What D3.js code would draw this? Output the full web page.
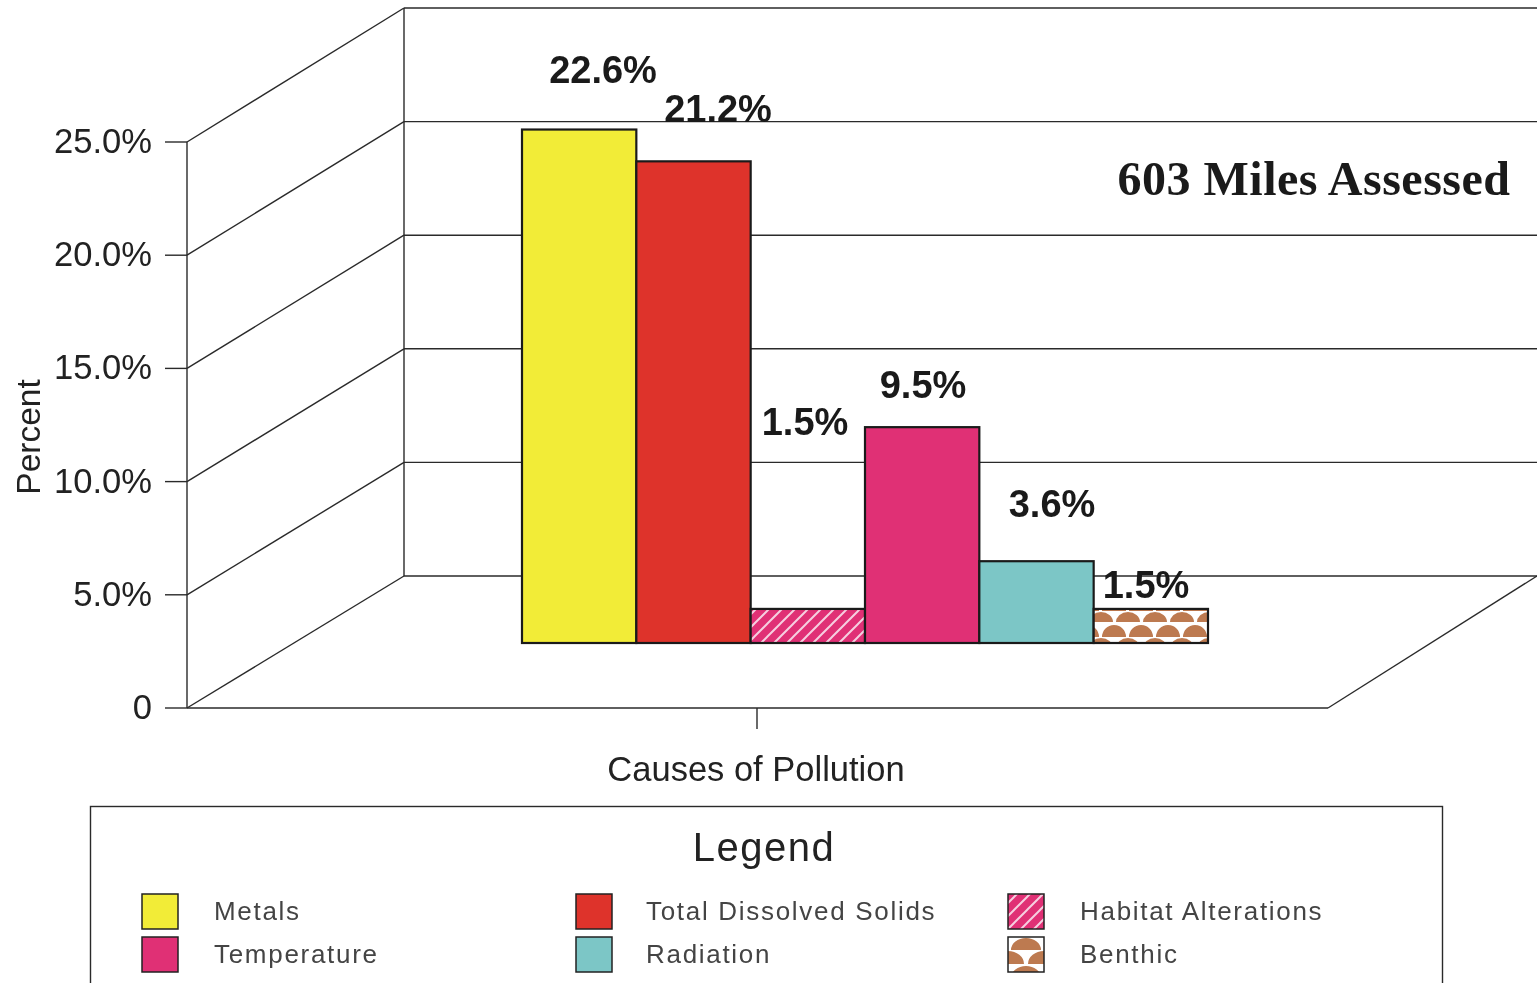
<!DOCTYPE html>
<html><head><meta charset="utf-8">
<script src="https://cdn.jsdelivr.net/npm/d3@7"></script>
<style>html,body{margin:0;padding:0;background:#fff;overflow:hidden}svg{display:block;filter:blur(0.5px)}text{font-family:"Liberation Sans",Arial,sans-serif}</style>
</head><body><svg id="c" width="1537" height="983"></svg>
<script>
const categories=["Metals","Total Dissolved Solids","Habitat Alterations","Temperature","Radiation","Benthic"];
const values=[22.6,21.2,1.5,9.5,3.6,1.5];
const valueLabels=["22.6%","21.2%","1.5%","9.5%","3.6%","1.5%"];
const fills=["#f2ec37","#de332b","url(#hatch)","#e03075","#7cc6c6","url(#benthic)"];
const tickValues=[0,5,10,15,20,25];
const tickLabels=["0","5.0%","10.0%","15.0%","20.0%","25.0%"];

const svg=d3.select("#c");
const defs=svg.append("defs");
const h=defs.append("pattern").attr("id","hatch").attr("patternUnits","userSpaceOnUse").attr("width",13).attr("height",13);
h.append("rect").attr("width",13).attr("height",13).attr("fill","#e03075");
h.append("path").attr("d","M-3,3L3,-3M0,13L13,0M10,16L16,10").attr("stroke","#f6cfe0").attr("stroke-width",2);
const b=defs.append("pattern").attr("id","benthic").attr("patternUnits","userSpaceOnUse").attr("width",27).attr("height",26).attr("x",1092).attr("y",612);
b.append("rect").attr("width",27).attr("height",26).attr("fill","#fff");
b.append("path").attr("d","M-3,10A12,10 0 0 1 21,10ZM24,10A12,10 0 0 1 48,10ZM10,25A12,12 0 0 1 34,25ZM-17,25A12,12 0 0 1 7,25Z").attr("fill","#bd7a50");
const b2=defs.append("pattern").attr("id","benthicL").attr("patternUnits","userSpaceOnUse").attr("width",36).attr("height",28).attr("x",1008).attr("y",937);
b2.append("rect").attr("width",36).attr("height",28).attr("fill","#fff");
b2.append("path").attr("d","M3,13A15,12 0 0 1 33,13ZM-16,27A16,13 0 0 1 16,27ZM20,27A16,13 0 0 1 52,27Z").attr("fill","#bd7a50");

const yFront=d3.scaleLinear().domain([0,25]).range([708,142]);
const yBack=d3.scaleLinear().domain([0,25]).range([576,8]);
const yBar=d3.scaleLinear().domain([0,25]).range([643,75]);
const x=d3.scaleBand().domain(categories).range([522,1208]);
const line="#2a2a2a";

const g=svg.append("g").attr("stroke",line).attr("stroke-width",1.4).attr("fill","none");
tickValues.forEach(t=>{
  g.append("line").attr("x1",187).attr("y1",yFront(t)).attr("x2",404).attr("y2",yBack(t));
  g.append("line").attr("x1",404).attr("y1",yBack(t)).attr("x2",1537).attr("y2",yBack(t));
  g.append("line").attr("x1",165).attr("y1",yFront(t)).attr("x2",187).attr("y2",yFront(t));
});
g.append("line").attr("x1",187).attr("y1",yFront(25)).attr("x2",187).attr("y2",yFront(0));
g.append("line").attr("x1",404).attr("y1",yBack(25)).attr("x2",404).attr("y2",yBack(0));
g.append("line").attr("x1",187).attr("y1",yFront(0)).attr("x2",1328).attr("y2",yFront(0));
g.append("line").attr("x1",1328).attr("y1",yFront(0)).attr("x2",1537).attr("y2",yBack(0));
g.append("line").attr("x1",757).attr("y1",708).attr("x2",757).attr("y2",729);

svg.append("g").selectAll("text").data(tickValues).join("text")
  .attr("x",152).attr("y",d=>yFront(d)+11).attr("text-anchor","end")
  .attr("font-size",34.6).attr("fill","#222").text((d,i)=>tickLabels[i]);
svg.append("text").attr("transform","translate(40,437) rotate(-90)").attr("text-anchor","middle")
  .attr("font-size",33.5).attr("fill","#222").text("Percent");
svg.append("text").attr("x",756).attr("y",781).attr("text-anchor","middle")
  .attr("font-size",34.5).attr("fill","#222").text("Causes of Pollution");

svg.append("g").selectAll("rect").data(values).join("rect")
  .attr("x",(d,i)=>x(categories[i])).attr("width",x.bandwidth())
  .attr("y",d=>yBar(d)).attr("height",d=>yBar(0)-yBar(d))
  .attr("fill",(d,i)=>fills[i]).attr("stroke","#1a1a1a").attr("stroke-width",2.2);

const labelX=[603,718,805,923,1052,1146];
const labelY=[83,122,435,398,517,598];
svg.append("g").selectAll("text").data(valueLabels).join("text")
  .attr("x",(d,i)=>labelX[i]).attr("y",(d,i)=>labelY[i]).attr("text-anchor","middle")
  .attr("font-size",38).attr("font-weight","bold").attr("fill","#1a1a1a").text(d=>d);

svg.append("text").attr("x",1314).attr("y",195).attr("text-anchor","middle")
  .attr("font-size",48).attr("font-weight","bold").attr("letter-spacing",0.5).attr("fill","#1a1a1a")
  .style("font-family","'Liberation Serif',serif").text("603 Miles Assessed");

svg.append("rect").attr("x",90.5).attr("y",806.5).attr("width",1352).attr("height",200).attr("fill","none").attr("stroke",line).attr("stroke-width",1.4);
svg.append("text").attr("x",764).attr("y",861).attr("text-anchor","middle").attr("font-size",40).attr("fill","#222").attr("letter-spacing",1.5).text("Legend");
const legendFills=["#f2ec37","#de332b","url(#hatch)","#e03075","#7cc6c6","url(#benthicL)"];
const colX=[142,576,1008], txtX=[214,646,1080], rowY=[894,937];
const lg=svg.append("g").selectAll("g").data(categories).join("g");
lg.append("rect").attr("x",(d,i)=>colX[i%3]).attr("y",(d,i)=>rowY[Math.floor(i/3)]).attr("width",36).attr("height",35)
  .attr("fill",(d,i)=>legendFills[i]).attr("stroke","#222").attr("stroke-width",1.5);
lg.append("text").attr("x",(d,i)=>txtX[i%3]).attr("y",(d,i)=>rowY[Math.floor(i/3)]+26)
  .attr("font-size",26).attr("letter-spacing",1.7).attr("fill","#444").text(d=>d);
</script></body></html>
